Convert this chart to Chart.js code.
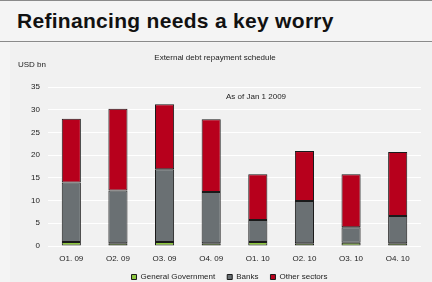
<!DOCTYPE html>
<html>
<head>
<meta charset="utf-8">
<script src="https://cdn.jsdelivr.net/npm/chart.js@4"></script>
<style>
body{margin:0;background:#f4f4f4;width:432px;height:282px;overflow:hidden;font-family:"Liberation Sans",Arial,sans-serif;}
#top{position:absolute;left:0;top:0;width:432px;height:1px;background:#8a8a8a;}
#title{position:absolute;left:17px;top:9px;font-size:21px;font-weight:bold;color:#111;letter-spacing:0.3px;}
#rule{position:absolute;left:0;top:41px;width:432px;height:1px;background:#8a8a8a;}
#wrap{position:absolute;left:10px;top:43px;width:422px;height:239px;background:#f1f1f1;}
</style>
</head>
<body>
<div id="top"></div>
<div id="title">Refinancing needs a key worry</div>
<div id="rule"></div>
<div id="wrap"><canvas id="debtChart" width="422" height="239"></canvas></div>
<script>
var quarters=["Q1, 09","Q2, 09","Q3, 09","Q4, 09","Q1, 10","Q2, 10","Q3, 10","Q4, 10"];
var government=[0.9,0.6,0.9,0.6,0.9,0.6,0.7,0.6];
var banks=[13.1,11.6,16.0,11.3,4.8,9.3,3.4,6.0];
var other=[14.0,18.0,14.3,16.0,10.1,11.0,11.7,14.1];
var yTicks=[0,5,10,15,20,25,30,35];

var fontFam='"Liberation Sans",Arial,sans-serif';

// free text: unit label, title and note
var notes={
    id:"notes",
    afterDraw:function(chart){
        var c=chart.ctx;
        var y=chart.scales.y;
        c.save();
        c.fillStyle="#222";
        c.font="8px "+fontFam;
        c.textAlign="left";
        c.textBaseline="middle";
        c.fillText("USD bn",8,22);
        c.textAlign="center";
        c.fillText("External debt repayment schedule",205,15);
        c.textAlign="left";
        c.fillText("As of Jan 1 2009",216,y.getPixelForValue(32.8));
        c.restore();
    }
};

// keep the legend short so wide item spacing doesn't eat the plot
var legendHeight={
    id:"legendHeight",
    beforeInit:function(chart){
        var lg=chart.legend;
        if(!lg){return;}
        var fit=lg.fit;
        lg.fit=function(){
            fit.call(lg);
            lg.height=21;
        };
    },
    afterLayout:function(chart){
        // legend sits a bit right of centre in the original
        if(chart.legend){
            chart.legend.left+=14;
            chart.legend.right+=14;
        }
    }
};

function makeSet(label,data,color){
    return {
        label:label,
        data:data,
        backgroundColor:color,
        borderColor:"#1a1a1a",
        borderWidth:1,
        borderSkipped:false,
        barPercentage:0.41,
        categoryPercentage:1.0
    };
}

var ctx=document.getElementById("debtChart").getContext("2d");
var debtChart=new Chart(ctx,{
    type:"bar",
    data:{
        labels:quarters,
        datasets:[
            makeSet("General Government",government,"#8cc63e"),
            makeSet("Banks",banks,"#6a7073"),
            makeSet("Other sectors",other,"#b7001c")
        ]
    },
    options:{
        responsive:false,
        animation:false,
        layout:{padding:{top:44,right:11,left:0,bottom:0}},
        plugins:{
            legend:{
                position:"bottom",
                labels:{
                    boxWidth:5,
                    boxHeight:5,
                    padding:12,
                    color:"#222",
                    font:{size:8,family:fontFam}
                }
            },
            tooltip:{enabled:false}
        },
        scales:{
            x:{
                stacked:true,
                grid:{display:false},
                border:{display:false},
                afterFit:function(axis){axis.height=15;},
                ticks:{color:"#222",font:{size:8,family:fontFam},padding:0}
            },
            y:{
                stacked:true,
                min:0,
                max:35,
                afterBuildTicks:function(axis){
                    axis.ticks=yTicks.map(function(v){return {value:v};});
                },
                afterFit:function(axis){axis.width=38;},
                grid:{color:"#ffffff",lineWidth:1,drawTicks:false},
                border:{display:false},
                ticks:{color:"#222",font:{size:8,family:fontFam},padding:8}
            }
        }
    },
    plugins:[notes,legendHeight]
});
</script>
</body>
</html>
